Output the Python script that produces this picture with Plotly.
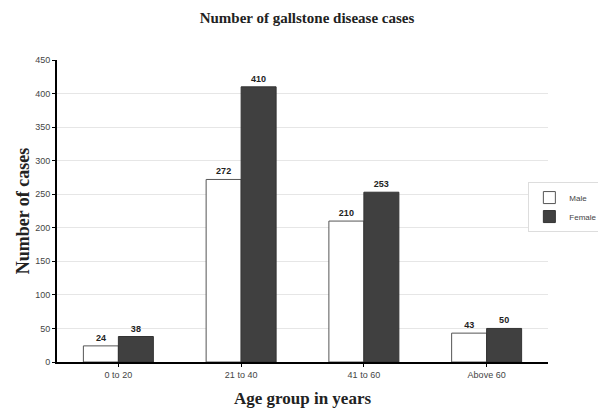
import plotly.graph_objects as go

categories = ["0 to 20", "21 to 40", "41 to 60", "Above 60"]
male = [24, 272, 210, 43]
female = [38, 410, 253, 50]
y_ticks = [0, 50, 100, 150, 200, 250, 300, 350, 400, 450]

fig = go.Figure()
fig.add_trace(go.Bar(
    name="Male", x=categories, y=male,
    marker=dict(color="white", line=dict(color="#555555", width=1)),
    text=[f"<b>{v}</b>" for v in male], textposition="outside",
    textfont=dict(family="Arial", size=9, color="#222222"),
    cliponaxis=False,
))
fig.add_trace(go.Bar(
    name="Female", x=categories, y=female,
    marker=dict(color="#404040", line=dict(color="#333333", width=1)),
    text=[f"<b>{v}</b>" for v in female], textposition="outside",
    textfont=dict(family="Arial", size=9, color="#222222"),
    cliponaxis=False,
))

# page body has an 8px margin, so the figure is 598x400 drawn at (8, 8)
fig.update_layout(
    width=598, height=400,
    barmode="group", bargap=0.43, bargroupgap=0,
    plot_bgcolor="white", paper_bgcolor="white",
    margin=dict(l=49, r=58, t=52, b=46, autoexpand=False),
    title=dict(text="<b>Number of gallstone disease cases</b>",
               font=dict(family="Liberation Serif", size=15, color="#222222"),
               x=0.5, xanchor="center", yref="container", y=1 - 10 / 400, yanchor="middle"),
    legend=dict(x=0.96, xanchor="left", y=0.513, yanchor="middle",
                bgcolor="white", bordercolor="#dddddd", borderwidth=1,
                font=dict(family="Arial", size=8, color="#444444"),
                itemwidth=30, tracegroupgap=0),
    showlegend=True,
)
fig.update_xaxes(
    showline=True, linecolor="black", linewidth=2,
    ticks="outside", ticklen=3, tickcolor="black",
    tickfont=dict(family="Arial", size=9, color="#444444"),
    title=dict(text="<b>Age group in years</b>",
               font=dict(family="Liberation Serif", size=17, color="#222222"),
               standoff=13),
    showgrid=False,
)
fig.update_yaxes(
    range=[0, 450], tickvals=y_ticks,
    showline=True, linecolor="black", linewidth=2,
    ticks="outside", ticklen=3, tickcolor="black",
    tickfont=dict(family="Arial", size=9, color="#444444"),
    showgrid=True, gridcolor="#e6e6e6", gridwidth=1,
    zeroline=False,
    title=dict(text="<b>Number of cases</b>",
               font=dict(family="Liberation Serif", size=18, color="#222222"),
               standoff=1),
)
fig.write_html("out.html")
